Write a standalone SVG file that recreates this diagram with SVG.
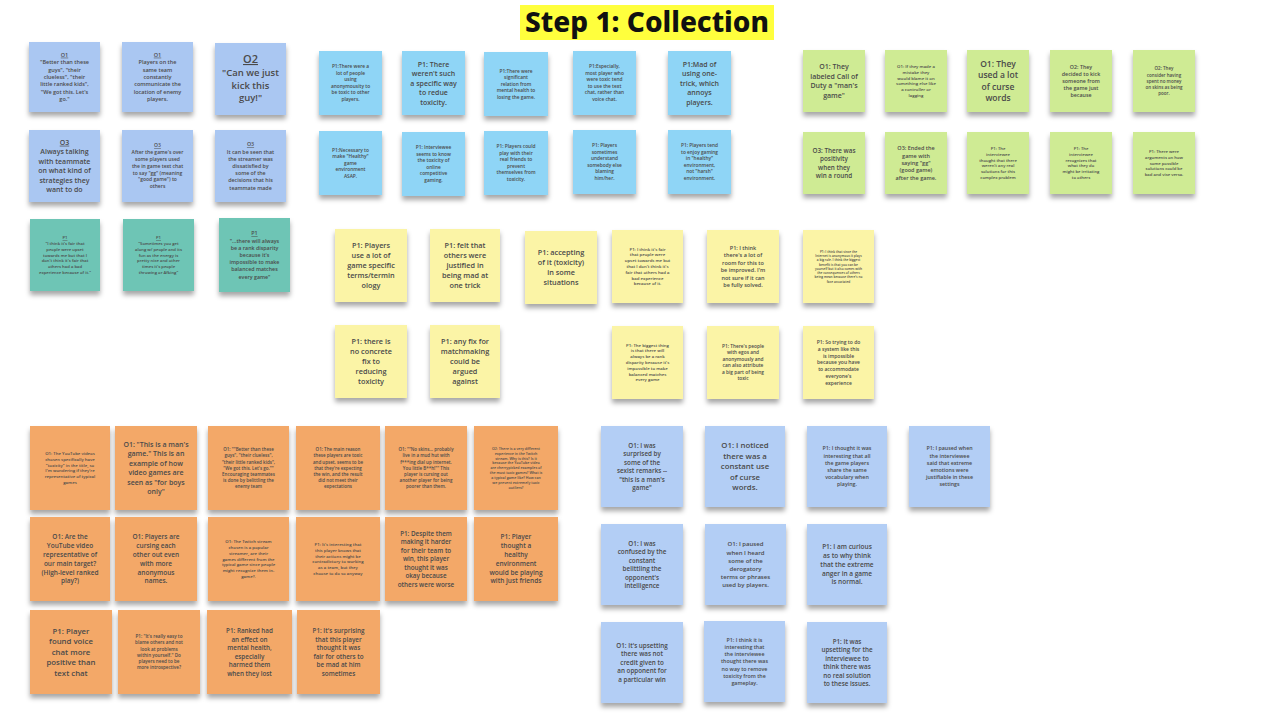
<svg xmlns="http://www.w3.org/2000/svg" width="1280" height="719" viewBox="0 0 1280 719">
<defs>
<filter id="sh" x="-20%" y="-20%" width="140%" height="150%"><feDropShadow dx="0" dy="4" stdDeviation="2.5" flood-color="#000" flood-opacity="0.35"/></filter>
</defs>
<style>
rect.n{filter:url(#sh)}
.a{fill:#aac7f2}.t{fill:#6ec5b5}.c{fill:#8fd5f6}.g{fill:#cfeb94}.y{fill:#fbf4a6}.o{fill:#f3a868}.b{fill:#b3cef5}
text{font-family:"Open Sans","Liberation Sans",sans-serif;font-weight:600;fill:#4a4a4a;text-anchor:middle}
.u{text-decoration:underline}
</style>
<rect width="1280" height="719" fill="#fff"/>
<rect x="520" y="5" width="254" height="35" fill="#ffff3d"/>
<text x="647" y="32" style="font-family:'Noto Sans','Liberation Sans',sans-serif;font-weight:800;font-size:28px;fill:#111">Step 1: Collection</text>

<g id="A1"><rect class="n a" x="29" y="42" width="71" height="70"/><text x="64.5" y="56.7" font-size="5.5"><tspan class="u" x="64.5">O1</tspan><tspan x="64.5" dy="7.4">"Better than these</tspan><tspan x="64.5" dy="7.4">guys", "their</tspan><tspan x="64.5" dy="7.4">clueless", "their</tspan><tspan x="64.5" dy="7.4">little ranked kids",</tspan><tspan x="64.5" dy="7.4">"We got this. Let's</tspan><tspan x="64.5" dy="7.4">go."</tspan></text></g>
<g id="A2"><rect class="n a" x="122" y="42" width="71" height="70"/><text x="157.5" y="56.7" font-size="5.5"><tspan class="u" x="157.5">O1</tspan><tspan x="157.5" dy="7.4">Players on the</tspan><tspan x="157.5" dy="7.4">same team</tspan><tspan x="157.5" dy="7.4">constantly</tspan><tspan x="157.5" dy="7.4">communicate the</tspan><tspan x="157.5" dy="7.4">location of enemy</tspan><tspan x="157.5" dy="7.4">players.</tspan></text></g>
<g id="A3"><rect class="n a" x="215" y="43" width="71" height="72"/><text x="250.5" y="63" font-size="9.5"><tspan class="u" x="250.5" font-size="11">O2</tspan><tspan x="250.5" dy="12.8">"Can we just</tspan><tspan x="250.5" dy="12.8">kick this</tspan><tspan x="250.5" dy="12.8">guy!"</tspan></text></g>
<g id="A4"><rect class="n a" x="29" y="130" width="71" height="72"/><text x="64.5" y="144.7" font-size="7"><tspan class="u" x="64.5">O3</tspan><tspan x="64.5" dy="9.5">Always talking</tspan><tspan x="64.5" dy="9.5">with teammate</tspan><tspan x="64.5" dy="9.5">on what kind of</tspan><tspan x="64.5" dy="9.5">strategies they</tspan><tspan x="64.5" dy="9.5">want to do</tspan></text></g>
<g id="A5"><rect class="n a" x="122" y="130" width="71" height="72"/><text x="157.5" y="147.3" font-size="5"><tspan class="u" x="157.5">O3</tspan><tspan x="157.5" dy="6.8">After the game's over</tspan><tspan x="157.5" dy="6.8">some players used</tspan><tspan x="157.5" dy="6.8">the in game text chat</tspan><tspan x="157.5" dy="6.8">to say "gg" (meaning</tspan><tspan x="157.5" dy="6.8">"good game") to</tspan><tspan x="157.5" dy="6.8">others</tspan></text></g>
<g id="A6"><rect class="n a" x="215" y="130" width="71" height="72"/><text x="250.5" y="146.3" font-size="5.3"><tspan class="u" x="250.5">O3</tspan><tspan x="250.5" dy="7.2">It can be seen that</tspan><tspan x="250.5" dy="7.2">the streamer was</tspan><tspan x="250.5" dy="7.2">dissatisfied by</tspan><tspan x="250.5" dy="7.2">some of the</tspan><tspan x="250.5" dy="7.2">decisions that his</tspan><tspan x="250.5" dy="7.2">teammate made</tspan></text></g>
<g id="T1"><rect class="n t" x="30" y="219" width="70" height="72"/><text x="65" y="239.4" font-size="4.2"><tspan class="u" x="65">P1</tspan><tspan x="65" dy="5.7">"I think it's fair that</tspan><tspan x="65" dy="5.7">people were upset</tspan><tspan x="65" dy="5.7">towards me but that I</tspan><tspan x="65" dy="5.7">don't think it's fair that</tspan><tspan x="65" dy="5.7">others had a bad</tspan><tspan x="65" dy="5.7">experience because of it."</tspan></text></g>
<g id="T2"><rect class="n t" x="123" y="219" width="71" height="72"/><text x="158.5" y="239.4" font-size="4.2"><tspan class="u" x="158.5">P1</tspan><tspan x="158.5" dy="5.7">"Sometimes you get</tspan><tspan x="158.5" dy="5.7">along w/ people and its</tspan><tspan x="158.5" dy="5.7">fun as the energy is</tspan><tspan x="158.5" dy="5.7">pretty nice and other</tspan><tspan x="158.5" dy="5.7">times it's people</tspan><tspan x="158.5" dy="5.7">throwing or Afking"</tspan></text></g>
<g id="T3"><rect class="n t" x="219" y="218" width="71" height="74"/><text x="254.5" y="235.3" font-size="5.3"><tspan class="u" x="254.5">P1</tspan><tspan x="254.5" dy="7.2">"...there will always</tspan><tspan x="254.5" dy="7.2">be a rank disparity</tspan><tspan x="254.5" dy="7.2">because it's</tspan><tspan x="254.5" dy="7.2">impossible to make</tspan><tspan x="254.5" dy="7.2">balanced matches</tspan><tspan x="254.5" dy="7.2">every game"</tspan></text></g>

<g id="B1"><rect class="n c" x="319" y="51" width="63" height="64"/><text x="350.5" y="68.4" font-size="4.8"><tspan x="350.5">P1:There were a</tspan><tspan x="350.5" dy="6.5">lot of people</tspan><tspan x="350.5" dy="6.5">using</tspan><tspan x="350.5" dy="6.5">anonymousity to</tspan><tspan x="350.5" dy="6.5">be toxic to other</tspan><tspan x="350.5" dy="6.5">players.</tspan></text></g>
<g id="B2"><rect class="n c" x="402" y="51" width="63" height="64"/><text x="433.5" y="66.5" font-size="7"><tspan x="433.5">P1: There</tspan><tspan x="433.5" dy="9.5">weren't such</tspan><tspan x="433.5" dy="9.5">a specific way</tspan><tspan x="433.5" dy="9.5">to redue</tspan><tspan x="433.5" dy="9.5">toxicity.</tspan></text></g>
<g id="B3"><rect class="n c" x="484" y="52" width="64" height="64"/><text x="516" y="72.7" font-size="4.8"><tspan x="516">P1:There were</tspan><tspan x="516" dy="6.5">significant</tspan><tspan x="516" dy="6.5">relation from</tspan><tspan x="516" dy="6.5">mental health to</tspan><tspan x="516" dy="6.5">losing the game.</tspan></text></g>
<g id="B4"><rect class="n c" x="573" y="51" width="63" height="64"/><text x="604.5" y="68.4" font-size="4.8"><tspan x="604.5">P1:Especially,</tspan><tspan x="604.5" dy="6.5">most player who</tspan><tspan x="604.5" dy="6.5">were toxic tend</tspan><tspan x="604.5" dy="6.5">to use the text</tspan><tspan x="604.5" dy="6.5">chat, rather than</tspan><tspan x="604.5" dy="6.5">voice chat.</tspan></text></g>
<g id="B5"><rect class="n c" x="668" y="51" width="63" height="64"/><text x="699.5" y="66.5" font-size="7"><tspan x="699.5">P1:Mad of</tspan><tspan x="699.5" dy="9.5">using one-</tspan><tspan x="699.5" dy="9.5">trick, which</tspan><tspan x="699.5" dy="9.5">annoys</tspan><tspan x="699.5" dy="9.5">players.</tspan></text></g>
<g id="B6"><rect class="n c" x="319" y="131" width="63" height="64"/><text x="350.5" y="151.7" font-size="4.8"><tspan x="350.5">P1:Necessary to</tspan><tspan x="350.5" dy="6.5">make "Healthy"</tspan><tspan x="350.5" dy="6.5">game</tspan><tspan x="350.5" dy="6.5">environment</tspan><tspan x="350.5" dy="6.5">ASAP.</tspan></text></g>
<g id="B7"><rect class="n c" x="402" y="132" width="63" height="64"/><text x="433.5" y="149.4" font-size="4.8"><tspan x="433.5">P1: Interviewee</tspan><tspan x="433.5" dy="6.5">seems to know</tspan><tspan x="433.5" dy="6.5">the toxicity of</tspan><tspan x="433.5" dy="6.5">online</tspan><tspan x="433.5" dy="6.5">competitive</tspan><tspan x="433.5" dy="6.5">gaming.</tspan></text></g>
<g id="B8"><rect class="n c" x="484" y="131" width="64" height="64"/><text x="516" y="148.4" font-size="4.8"><tspan x="516">P1: Players could</tspan><tspan x="516" dy="6.5">play with their</tspan><tspan x="516" dy="6.5">real friends to</tspan><tspan x="516" dy="6.5">prevent</tspan><tspan x="516" dy="6.5">themselves from</tspan><tspan x="516" dy="6.5">toxicity.</tspan></text></g>
<g id="B9"><rect class="n c" x="573" y="130" width="63" height="64"/><text x="604.5" y="147.4" font-size="4.8"><tspan x="604.5">P1: Players</tspan><tspan x="604.5" dy="6.5">sometimes</tspan><tspan x="604.5" dy="6.5">understand</tspan><tspan x="604.5" dy="6.5">somebody else</tspan><tspan x="604.5" dy="6.5">blaming</tspan><tspan x="604.5" dy="6.5">him/her.</tspan></text></g>
<g id="B10"><rect class="n c" x="668" y="130" width="63" height="64"/><text x="699.5" y="147.4" font-size="4.8"><tspan x="699.5">P1: Players tend</tspan><tspan x="699.5" dy="6.5">to enjoy gaming</tspan><tspan x="699.5" dy="6.5">in "healthy"</tspan><tspan x="699.5" dy="6.5">environment,</tspan><tspan x="699.5" dy="6.5">not "harsh"</tspan><tspan x="699.5" dy="6.5">environment.</tspan></text></g>

<g id="G1"><rect class="n g" x="803" y="50" width="62" height="62"/><text x="834" y="69.2" font-size="7"><tspan x="834">O1: They</tspan><tspan x="834" dy="9.5">labeled Call of</tspan><tspan x="834" dy="9.5">Duty a "man's</tspan><tspan x="834" dy="9.5">game"</tspan></text></g>
<g id="G2"><rect class="n g" x="885" y="50" width="62" height="62"/><text x="916" y="68" font-size="4.3"><tspan x="916">O1: If they made a</tspan><tspan x="916" dy="5.8">mistake they</tspan><tspan x="916" dy="5.8">would blame it on</tspan><tspan x="916" dy="5.8">something else like</tspan><tspan x="916" dy="5.8">a controller or</tspan><tspan x="916" dy="5.8">lagging</tspan></text></g>
<g id="G3"><rect class="n g" x="967" y="50" width="62" height="62"/><text x="998" y="66.8" font-size="8.5"><tspan x="998">O1: They</tspan><tspan x="998" dy="11.5">used a lot</tspan><tspan x="998" dy="11.5">of curse</tspan><tspan x="998" dy="11.5">words</tspan></text></g>
<g id="G4"><rect class="n g" x="1050" y="50" width="62" height="62"/><text x="1081" y="68.5" font-size="5.3"><tspan x="1081">O2: They</tspan><tspan x="1081" dy="7.2">decided to kick</tspan><tspan x="1081" dy="7.2">someone from</tspan><tspan x="1081" dy="7.2">the game just</tspan><tspan x="1081" dy="7.2">because</tspan></text></g>
<g id="G5"><rect class="n g" x="1133" y="50" width="62" height="62"/><text x="1164" y="70.4" font-size="4.5"><tspan x="1164">O2: They</tspan><tspan x="1164" dy="6.1">consider having</tspan><tspan x="1164" dy="6.1">spent no money</tspan><tspan x="1164" dy="6.1">on skins as being</tspan><tspan x="1164" dy="6.1">poor.</tspan></text></g>
<g id="G6"><rect class="n g" x="803" y="132" width="62" height="62"/><text x="834" y="152.5" font-size="6.3"><tspan x="834">O3: There was</tspan><tspan x="834" dy="8.5">positivity</tspan><tspan x="834" dy="8.5">when they</tspan><tspan x="834" dy="8.5">win a round</tspan></text></g>
<g id="G7"><rect class="n g" x="885" y="132" width="62" height="62"/><text x="916" y="150.1" font-size="5.5"><tspan x="916">O3: Ended the</tspan><tspan x="916" dy="7.4">game with</tspan><tspan x="916" dy="7.4">saying "gg"</tspan><tspan x="916" dy="7.4">(good game)</tspan><tspan x="916" dy="7.4">after the game.</tspan></text></g>
<g id="G8"><rect class="n g" x="967" y="132" width="62" height="62"/><text x="998" y="150.3" font-size="4.2"><tspan x="998">P1: The</tspan><tspan x="998" dy="5.7">interviewee</tspan><tspan x="998" dy="5.7">thought that there</tspan><tspan x="998" dy="5.7">weren't any real</tspan><tspan x="998" dy="5.7">solutions for this</tspan><tspan x="998" dy="5.7">complex problem</tspan></text></g>
<g id="G9"><rect class="n g" x="1050" y="132" width="62" height="62"/><text x="1081" y="150.3" font-size="4.2"><tspan x="1081">P1: The</tspan><tspan x="1081" dy="5.7">interviewee</tspan><tspan x="1081" dy="5.7">recognizes that</tspan><tspan x="1081" dy="5.7">what they do</tspan><tspan x="1081" dy="5.7">might be irritating</tspan><tspan x="1081" dy="5.7">to others</tspan></text></g>
<g id="G10"><rect class="n g" x="1133" y="132" width="62" height="62"/><text x="1164" y="153.1" font-size="4.2"><tspan x="1164">P1: There were</tspan><tspan x="1164" dy="5.7">arguments on how</tspan><tspan x="1164" dy="5.7">some possible</tspan><tspan x="1164" dy="5.7">solutions could be</tspan><tspan x="1164" dy="5.7">bad and vise versa.</tspan></text></g>

<g id="Y1"><rect class="n y" x="335" y="229" width="72" height="73"/><text x="371" y="248.3" font-size="7.3"><tspan x="371">P1: Players</tspan><tspan x="371" dy="9.9">use a lot of</tspan><tspan x="371" dy="9.9">game specific</tspan><tspan x="371" dy="9.9">terms/termin</tspan><tspan x="371" dy="9.9">ology</tspan></text></g>
<g id="Y2"><rect class="n y" x="430" y="229" width="70" height="73"/><text x="465" y="248.3" font-size="7.3"><tspan x="465">P1: felt that</tspan><tspan x="465" dy="9.9">others were</tspan><tspan x="465" dy="9.9">justified in</tspan><tspan x="465" dy="9.9">being mad at</tspan><tspan x="465" dy="9.9">one trick</tspan></text></g>
<g id="Y3"><rect class="n y" x="525" y="231" width="72" height="73"/><text x="561" y="255.2" font-size="7.3"><tspan x="561">P1: accepting</tspan><tspan x="561" dy="9.9">of it (toxicity)</tspan><tspan x="561" dy="9.9">in some</tspan><tspan x="561" dy="9.9">situations</tspan></text></g>
<g id="Y4"><rect class="n y" x="612" y="230" width="71" height="73"/><text x="647.5" y="250.6" font-size="4.3"><tspan x="647.5">P1: I think it's fair</tspan><tspan x="647.5" dy="5.8">that people were</tspan><tspan x="647.5" dy="5.8">upset towards me but</tspan><tspan x="647.5" dy="5.8">that I don't think it's</tspan><tspan x="647.5" dy="5.8">fair that others had a</tspan><tspan x="647.5" dy="5.8">bad experience</tspan><tspan x="647.5" dy="5.8">because of it.</tspan></text></g>
<g id="Y5"><rect class="n y" x="707" y="230" width="72" height="73"/><text x="743" y="249.9" font-size="5.5"><tspan x="743">P1: I think</tspan><tspan x="743" dy="7.4">there's a lot of</tspan><tspan x="743" dy="7.4">room for this to</tspan><tspan x="743" dy="7.4">be improved. I'm</tspan><tspan x="743" dy="7.4">not sure if it can</tspan><tspan x="743" dy="7.4">be fully solved.</tspan></text></g>
<g id="Y6"><rect class="n y" x="803" y="230" width="71" height="73"/><text x="838.5" y="252.6" font-size="3.2"><tspan x="838.5">P1: I think that since the</tspan><tspan x="838.5" dy="4.3">Internet is anonymous it plays</tspan><tspan x="838.5" dy="4.3">a big role. I think the biggest</tspan><tspan x="838.5" dy="4.3">benefit is that you can be</tspan><tspan x="838.5" dy="4.3">yourself but it also comes with</tspan><tspan x="838.5" dy="4.3">the consequences of others</tspan><tspan x="838.5" dy="4.3">being mean because there's no</tspan><tspan x="838.5" dy="4.3">face associated</tspan></text></g>
<g id="Y7"><rect class="n y" x="335" y="325" width="72" height="73"/><text x="371" y="344.3" font-size="7.3"><tspan x="371">P1: there is</tspan><tspan x="371" dy="9.9">no concrete</tspan><tspan x="371" dy="9.9">fix to</tspan><tspan x="371" dy="9.9">reducing</tspan><tspan x="371" dy="9.9">toxicity</tspan></text></g>
<g id="Y8"><rect class="n y" x="430" y="325" width="70" height="73"/><text x="465" y="344.3" font-size="7.3"><tspan x="465">P1: any fix for</tspan><tspan x="465" dy="9.9">matchmaking</tspan><tspan x="465" dy="9.9">could be</tspan><tspan x="465" dy="9.9">argued</tspan><tspan x="465" dy="9.9">against</tspan></text></g>
<g id="Y9"><rect class="n y" x="612" y="326" width="71" height="73"/><text x="647.5" y="346.6" font-size="4.3"><tspan x="647.5">P1: The biggest thing</tspan><tspan x="647.5" dy="5.8">is that there will</tspan><tspan x="647.5" dy="5.8">always be a rank</tspan><tspan x="647.5" dy="5.8">disparity because it's</tspan><tspan x="647.5" dy="5.8">impossible to make</tspan><tspan x="647.5" dy="5.8">balanced matches</tspan><tspan x="647.5" dy="5.8">every game</tspan></text></g>
<g id="Y10"><rect class="n y" x="707" y="326" width="72" height="73"/><text x="743" y="347.9" font-size="4.8"><tspan x="743">P1: There's people</tspan><tspan x="743" dy="6.5">with egos and</tspan><tspan x="743" dy="6.5">anonymously and</tspan><tspan x="743" dy="6.5">can also attribute</tspan><tspan x="743" dy="6.5">a big part of being</tspan><tspan x="743" dy="6.5">toxic</tspan></text></g>
<g id="Y11"><rect class="n y" x="803" y="326" width="71" height="73"/><text x="838.5" y="343.9" font-size="5"><tspan x="838.5">P1: So trying to do</tspan><tspan x="838.5" dy="6.8">a system like this</tspan><tspan x="838.5" dy="6.8">is impossible</tspan><tspan x="838.5" dy="6.8">because you have</tspan><tspan x="838.5" dy="6.8">to accommodate</tspan><tspan x="838.5" dy="6.8">everyone's</tspan><tspan x="838.5" dy="6.8">experience</tspan></text></g>

<g id="O1"><rect class="n o" x="30" y="426" width="80" height="84"/><text x="70" y="455" font-size="4.3"><tspan x="70">O1: The YouTube videos</tspan><tspan x="70" dy="5.8">chosen specifically have</tspan><tspan x="70" dy="5.8">"toxicity" in the title, so</tspan><tspan x="70" dy="5.8">I'm wondering if they're</tspan><tspan x="70" dy="5.8">representative of typical</tspan><tspan x="70" dy="5.8">games</tspan></text></g>
<g id="O2"><rect class="n o" x="115" y="426" width="82" height="84"/><text x="156" y="446.8" font-size="7"><tspan x="156">O1: "This is a man's</tspan><tspan x="156" dy="9.5">game." This is an</tspan><tspan x="156" dy="9.5">example of how</tspan><tspan x="156" dy="9.5">video games are</tspan><tspan x="156" dy="9.5">seen as "for boys</tspan><tspan x="156" dy="9.5">only"</tspan></text></g>
<g id="O3"><rect class="n o" x="208" y="426" width="81" height="84"/><text x="248.5" y="451.3" font-size="4.5"><tspan x="248.5">O1: ""Better than these</tspan><tspan x="248.5" dy="6.1">guys", "their clueless",</tspan><tspan x="248.5" dy="6.1">"their little ranked kids",</tspan><tspan x="248.5" dy="6.1">"We got this. Let's go.""</tspan><tspan x="248.5" dy="6.1">Encouraging teammates</tspan><tspan x="248.5" dy="6.1">is done by belittling the</tspan><tspan x="248.5" dy="6.1">enemy team</tspan></text></g>
<g id="O4"><rect class="n o" x="296" y="426" width="84" height="84"/><text x="338" y="451.3" font-size="4.5"><tspan x="338">O1: The main reason</tspan><tspan x="338" dy="6.1">these players are toxic</tspan><tspan x="338" dy="6.1">and upset, seems to be</tspan><tspan x="338" dy="6.1">that they're expecting</tspan><tspan x="338" dy="6.1">the win, and the result</tspan><tspan x="338" dy="6.1">did not meet their</tspan><tspan x="338" dy="6.1">expectations</tspan></text></g>
<g id="O5"><rect class="n o" x="385" y="426" width="82" height="84"/><text x="426" y="451.3" font-size="4.5"><tspan x="426">O1: ""No skins... probably</tspan><tspan x="426" dy="6.1">live in a mud hut with</tspan><tspan x="426" dy="6.1">f***ing dial up internet.</tspan><tspan x="426" dy="6.1">You little B**h!"" This</tspan><tspan x="426" dy="6.1">player is cursing out</tspan><tspan x="426" dy="6.1">another player for being</tspan><tspan x="426" dy="6.1">poorer than them.</tspan></text></g>
<g id="O6"><rect class="n o" x="474" y="426" width="84" height="84"/><text x="516" y="449.7" font-size="3.6"><tspan x="516">O2: There is a very different</tspan><tspan x="516" dy="4.9">experience in the Twitch</tspan><tspan x="516" dy="4.9">stream. Why is this? Is it</tspan><tspan x="516" dy="4.9">because the YouTube video</tspan><tspan x="516" dy="4.9">are cherrypicked examples of</tspan><tspan x="516" dy="4.9">the most toxic games? What is</tspan><tspan x="516" dy="4.9">a typical game like? How can</tspan><tspan x="516" dy="4.9">we prevent extremely toxic</tspan><tspan x="516" dy="4.9">outliers?</tspan></text></g>
<g id="O7"><rect class="n o" x="30" y="517" width="80" height="84"/><text x="70" y="539.3" font-size="6.5"><tspan x="70">O1: Are the</tspan><tspan x="70" dy="8.8">YouTube video</tspan><tspan x="70" dy="8.8">representative of</tspan><tspan x="70" dy="8.8">our main target?</tspan><tspan x="70" dy="8.8">(High-level ranked</tspan><tspan x="70" dy="8.8">play?)</tspan></text></g>
<g id="O8"><rect class="n o" x="115" y="517" width="82" height="84"/><text x="156" y="539.3" font-size="6.5"><tspan x="156">O1: Players are</tspan><tspan x="156" dy="8.8">cursing each</tspan><tspan x="156" dy="8.8">other out even</tspan><tspan x="156" dy="8.8">with more</tspan><tspan x="156" dy="8.8">anonymous</tspan><tspan x="156" dy="8.8">names.</tspan></text></g>
<g id="O9"><rect class="n o" x="208" y="517" width="81" height="84"/><text x="248.5" y="543.1" font-size="4.3"><tspan x="248.5">O1: The Twitch stream</tspan><tspan x="248.5" dy="5.8">chosen is a popular</tspan><tspan x="248.5" dy="5.8">streamer, are their</tspan><tspan x="248.5" dy="5.8">games different from the</tspan><tspan x="248.5" dy="5.8">typical game since people</tspan><tspan x="248.5" dy="5.8">might recognize them in-</tspan><tspan x="248.5" dy="5.8">game?.</tspan></text></g>
<g id="O10"><rect class="n o" x="296" y="517" width="84" height="84"/><text x="338" y="546" font-size="4.3"><tspan x="338">P1: It's interesting that</tspan><tspan x="338" dy="5.8">this player knows that</tspan><tspan x="338" dy="5.8">their actions might be</tspan><tspan x="338" dy="5.8">contradictory to working</tspan><tspan x="338" dy="5.8">as a team, but they</tspan><tspan x="338" dy="5.8">choose to do so anyway</tspan></text></g>
<g id="O11"><rect class="n o" x="385" y="517" width="82" height="84"/><text x="426" y="535.7" font-size="6.3"><tspan x="426">P1: Despite them</tspan><tspan x="426" dy="8.5">making it harder</tspan><tspan x="426" dy="8.5">for their team to</tspan><tspan x="426" dy="8.5">win, this player</tspan><tspan x="426" dy="8.5">thought it was</tspan><tspan x="426" dy="8.5">okay because</tspan><tspan x="426" dy="8.5">others were worse</tspan></text></g>
<g id="O12"><rect class="n o" x="474" y="517" width="84" height="84"/><text x="516" y="539.3" font-size="6.5"><tspan x="516">P1: Player</tspan><tspan x="516" dy="8.8">thought a</tspan><tspan x="516" dy="8.8">healthy</tspan><tspan x="516" dy="8.8">environment</tspan><tspan x="516" dy="8.8">would be playing</tspan><tspan x="516" dy="8.8">with just friends</tspan></text></g>
<g id="O13"><rect class="n o" x="30" y="610" width="82" height="84"/><text x="71" y="633.7" font-size="7.8"><tspan x="71">P1: Player</tspan><tspan x="71" dy="10.5">found voice</tspan><tspan x="71" dy="10.5">chat more</tspan><tspan x="71" dy="10.5">positive than</tspan><tspan x="71" dy="10.5">text chat</tspan></text></g>
<g id="O14"><rect class="n o" x="118" y="610" width="82" height="84"/><text x="159" y="638.1" font-size="4.6"><tspan x="159">P1: "It's really easy to</tspan><tspan x="159" dy="6.2">blame others and not</tspan><tspan x="159" dy="6.2">look at problems</tspan><tspan x="159" dy="6.2">within yourself." Do</tspan><tspan x="159" dy="6.2">players need to be</tspan><tspan x="159" dy="6.2">more introspective?</tspan></text></g>
<g id="O15"><rect class="n o" x="207" y="610" width="85" height="84"/><text x="249.5" y="633" font-size="6.3"><tspan x="249.5">P1: Ranked had</tspan><tspan x="249.5" dy="8.5">an effect on</tspan><tspan x="249.5" dy="8.5">mental health,</tspan><tspan x="249.5" dy="8.5">especially</tspan><tspan x="249.5" dy="8.5">harmed them</tspan><tspan x="249.5" dy="8.5">when they lost</tspan></text></g>
<g id="O16"><rect class="n o" x="297" y="610" width="83" height="84"/><text x="338.5" y="633" font-size="6.3"><tspan x="338.5">P1: It's surprising</tspan><tspan x="338.5" dy="8.5">that this player</tspan><tspan x="338.5" dy="8.5">thought it was</tspan><tspan x="338.5" dy="8.5">fair for others to</tspan><tspan x="338.5" dy="8.5">be mad at him</tspan><tspan x="338.5" dy="8.5">sometimes</tspan></text></g>

<g id="L1"><rect class="n b" x="601" y="426" width="82" height="81"/><text x="642" y="447.5" font-size="6.3"><tspan x="642">O1: I was</tspan><tspan x="642" dy="8.5">surprised by</tspan><tspan x="642" dy="8.5">some of the</tspan><tspan x="642" dy="8.5">sexist remarks --</tspan><tspan x="642" dy="8.5">"this is a man's</tspan><tspan x="642" dy="8.5">game"</tspan></text></g>
<g id="L2"><rect class="n b" x="705" y="426" width="80" height="81"/><text x="745" y="448.2" font-size="7.8"><tspan x="745">O1: I noticed</tspan><tspan x="745" dy="10.5">there was a</tspan><tspan x="745" dy="10.5">constant use</tspan><tspan x="745" dy="10.5">of curse</tspan><tspan x="745" dy="10.5">words.</tspan></text></g>
<g id="L3"><rect class="n b" x="807" y="426" width="80" height="81"/><text x="847" y="450.4" font-size="5.3"><tspan x="847">P1: I thought it was</tspan><tspan x="847" dy="7.2">interesting that all</tspan><tspan x="847" dy="7.2">the game players</tspan><tspan x="847" dy="7.2">share the same</tspan><tspan x="847" dy="7.2">vocabulary when</tspan><tspan x="847" dy="7.2">playing.</tspan></text></g>
<g id="L4"><rect class="n b" x="909" y="426" width="81" height="81"/><text x="949.5" y="450.4" font-size="5.3"><tspan x="949.5">P1: I paused when</tspan><tspan x="949.5" dy="7.2">the interviewee</tspan><tspan x="949.5" dy="7.2">said that extreme</tspan><tspan x="949.5" dy="7.2">emotions were</tspan><tspan x="949.5" dy="7.2">justifiable in these</tspan><tspan x="949.5" dy="7.2">settings</tspan></text></g>
<g id="L5"><rect class="n b" x="601" y="524" width="82" height="81"/><text x="642" y="545.5" font-size="6.3"><tspan x="642">O1: I was</tspan><tspan x="642" dy="8.5">confused by the</tspan><tspan x="642" dy="8.5">constant</tspan><tspan x="642" dy="8.5">belittling the</tspan><tspan x="642" dy="8.5">opponent's</tspan><tspan x="642" dy="8.5">intelligence</tspan></text></g>
<g id="L6"><rect class="n b" x="705" y="524" width="81" height="81"/><text x="745.5" y="546.4" font-size="6"><tspan x="745.5">O1: I paused</tspan><tspan x="745.5" dy="8.1">when I heard</tspan><tspan x="745.5" dy="8.1">some of the</tspan><tspan x="745.5" dy="8.1">derogatory</tspan><tspan x="745.5" dy="8.1">terms or phrases</tspan><tspan x="745.5" dy="8.1">used by players.</tspan></text></g>
<g id="L7"><rect class="n b" x="807" y="524" width="80" height="81"/><text x="847" y="549.2" font-size="6.5"><tspan x="847">P1: I am curious</tspan><tspan x="847" dy="8.8">as to why think</tspan><tspan x="847" dy="8.8">that the extreme</tspan><tspan x="847" dy="8.8">anger in a game</tspan><tspan x="847" dy="8.8">is normal.</tspan></text></g>
<g id="L8"><rect class="n b" x="601" y="622" width="82" height="81"/><text x="642" y="647.7" font-size="6.3"><tspan x="642">O1: It's upsetting</tspan><tspan x="642" dy="8.5">there was not</tspan><tspan x="642" dy="8.5">credit given to</tspan><tspan x="642" dy="8.5">an opponent for</tspan><tspan x="642" dy="8.5">a particular win</tspan></text></g>
<g id="L9"><rect class="n b" x="704" y="621" width="81" height="81"/><text x="744.5" y="641.8" font-size="5.3"><tspan x="744.5">P1: I think it is</tspan><tspan x="744.5" dy="7.2">interesting that</tspan><tspan x="744.5" dy="7.2">the interviewee</tspan><tspan x="744.5" dy="7.2">thought there was</tspan><tspan x="744.5" dy="7.2">no way to remove</tspan><tspan x="744.5" dy="7.2">toxicity from the</tspan><tspan x="744.5" dy="7.2">gameplay.</tspan></text></g>
<g id="L10"><rect class="n b" x="807" y="622" width="80" height="81"/><text x="847" y="643.5" font-size="6.3"><tspan x="847">P1: It was</tspan><tspan x="847" dy="8.5">upsetting for the</tspan><tspan x="847" dy="8.5">interviewee to</tspan><tspan x="847" dy="8.5">think there was</tspan><tspan x="847" dy="8.5">no real solution</tspan><tspan x="847" dy="8.5">to these issues.</tspan></text></g>
</svg>
